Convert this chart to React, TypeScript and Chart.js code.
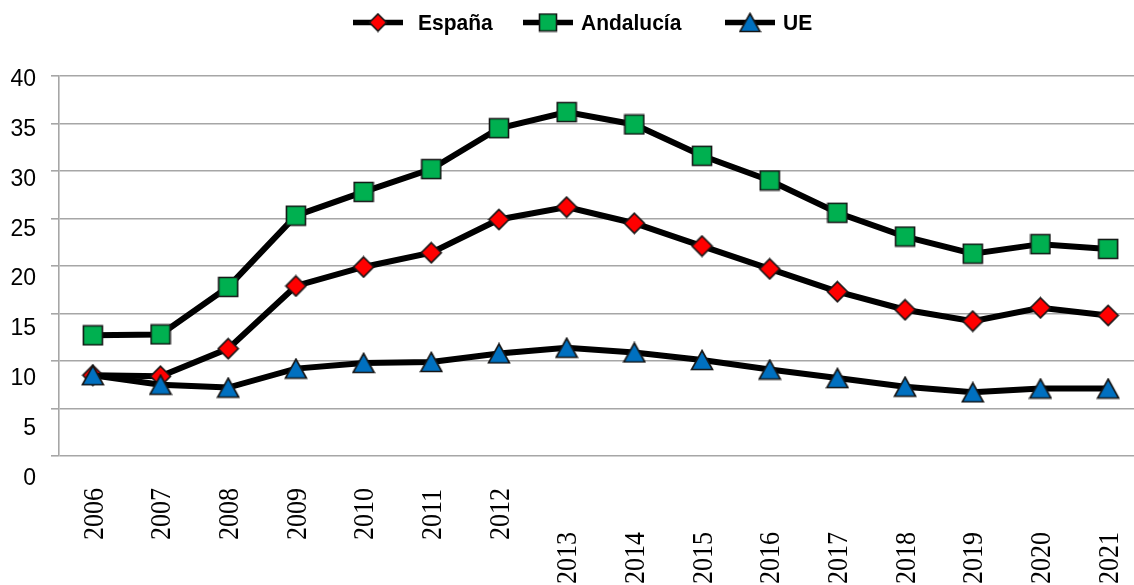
import React, { useEffect, useRef } from 'react';
import { Chart, registerables } from 'chart.js';

Chart.register(...registerables);

const years = ['2006', '2007', '2008', '2009', '2010', '2011', '2012', '2013', '2014', '2015', '2016', '2017', '2018', '2019', '2020', '2021'];
const espana = [8.5, 8.4, 11.3, 17.9, 19.9, 21.4, 24.9, 26.2, 24.5, 22.1, 19.7, 17.3, 15.4, 14.2, 15.6, 14.8];
const andalucia = [12.7, 12.8, 17.8, 25.3, 27.8, 30.2, 34.5, 36.2, 34.9, 31.6, 29.0, 25.6, 23.1, 21.3, 22.3, 21.8];
const ue = [8.5, 7.5, 7.2, 9.2, 9.8, 9.9, 10.8, 11.4, 10.9, 10.1, 9.1, 8.2, 7.3, 6.7, 7.1, 7.1];
const seriesNames = ['España', 'Andalucía', 'UE'];
const seriesColors = ['#ff0000', '#00b050', '#0070c0'];
const yTicks = [0, 5, 10, 15, 20, 25, 30, 35, 40];

type Kind = 'diamond' | 'square' | 'triangle';

function makeMarker(kind: Kind, fill: string, w: number, h: number): HTMLCanvasElement {
  const c = document.createElement('canvas');
  const pad = 1.5;
  c.width = Math.ceil(w + 2 * pad);
  c.height = Math.ceil(h + 2 * pad);
  const ctx = c.getContext('2d')!;
  const cx = c.width / 2;
  const cy = c.height / 2;
  ctx.beginPath();
  if (kind === 'diamond') {
    ctx.moveTo(cx, cy - h / 2);
    ctx.lineTo(cx + w / 2, cy);
    ctx.lineTo(cx, cy + h / 2);
    ctx.lineTo(cx - w / 2, cy);
  } else if (kind === 'square') {
    ctx.rect(cx - w / 2, cy - h / 2, w, h);
  } else {
    ctx.moveTo(cx, cy - h / 2);
    ctx.lineTo(cx + w / 2, cy + h / 2);
    ctx.lineTo(cx - w / 2, cy + h / 2);
  }
  ctx.closePath();
  ctx.fillStyle = fill;
  ctx.fill();
  ctx.lineWidth = 1.6;
  ctx.strokeStyle = '#151515';
  ctx.stroke();
  return c;
}

export default function App() {
  const ref = useRef<HTMLCanvasElement | null>(null);

  useEffect(() => {
    if (!ref.current) return;
    const mEsp = makeMarker('diamond', seriesColors[0], 20, 20);
    const mAnd = makeMarker('square', seriesColors[1], 19, 19);
    const mUe = makeMarker('triangle', seriesColors[2], 21, 19);
    const lEsp = makeMarker('diamond', seriesColors[0], 17, 17);
    const lAnd = makeMarker('square', seriesColors[1], 17, 17);
    const lUe = makeMarker('triangle', seriesColors[2], 20, 18);

    const labelsPlugin = {
      id: 'customLabels',
      afterDraw(chart: any) {
        const ctx = chart.ctx as CanvasRenderingContext2D;
        const ys = chart.scales.y;
        const xs = chart.scales.x;
        ctx.save();
        ctx.fillStyle = '#000';
        ctx.font = '23px "Liberation Sans", Arial, sans-serif';
        ctx.textAlign = 'right';
        ctx.textBaseline = 'alphabetic';
        yTicks.forEach((v) => {
          const p = ys.getPixelForValue(v);
          const cy = ys.top + 1 + (p - ys.top) * 1.05;
          ctx.save();
          ctx.translate(36, cy + 8.9);
          ctx.scale(1, 1.08);
          ctx.fillText(String(v), 0, 0);
          ctx.restore();
        });
        ctx.font = '26px "Liberation Serif", "Times New Roman", serif';
        years.forEach((lab, i) => {
          const x = xs.getPixelForValue(i);
          const bottom = i < 7 ? 540 : 584;
          ctx.save();
          ctx.translate(x, bottom);
          ctx.rotate(-Math.PI / 2);
          ctx.scale(1, 1.1);
          ctx.textAlign = 'left';
          ctx.textBaseline = 'alphabetic';
          ctx.fillText(lab, 0, 26 * 0.338);
          ctx.restore();
        });
        const items = [
          { name: seriesNames[0], lx: 353, tx: 418, m: lEsp },
          { name: seriesNames[1], lx: 523, tx: 581, m: lAnd },
          { name: seriesNames[2], lx: 725, tx: 783, m: lUe },
        ];
        const ly = 22.5;
        ctx.font = 'bold 21px "Liberation Sans", Arial, sans-serif';
        ctx.textAlign = 'left';
        ctx.textBaseline = 'alphabetic';
        items.forEach((it) => {
          ctx.beginPath();
          ctx.moveTo(it.lx, ly);
          ctx.lineTo(it.lx + 50, ly);
          ctx.lineWidth = 5.5;
          ctx.strokeStyle = '#000';
          ctx.stroke();
          ctx.drawImage(it.m, it.lx + 25 - it.m.width / 2, ly - it.m.height / 2);
          ctx.fillStyle = '#000';
          ctx.save();
          ctx.translate(it.tx, 30);
          ctx.scale(1, 1.06);
          ctx.fillText(it.name, 0, 0);
          ctx.restore();
        });
        ctx.restore();
      },
    };

    const chart = new Chart(ref.current, {
      type: 'line',
      data: {
        labels: years,
        datasets: [
          { label: seriesNames[0], data: espana, borderColor: '#000', borderWidth: 6, pointStyle: mEsp as any, pointRadius: 10, order: 3, tension: 0 },
          { label: seriesNames[1], data: andalucia, borderColor: '#000', borderWidth: 6, pointStyle: mAnd as any, pointRadius: 10, order: 2, tension: 0 },
          { label: seriesNames[2], data: ue, borderColor: '#000', borderWidth: 6, pointStyle: mUe as any, pointRadius: 10, order: 1, tension: 0 },
        ],
      },
      options: {
        responsive: false,
        animation: false,
        devicePixelRatio: 1,
        layout: { autoPadding: false, padding: { top: 76, right: 8, left: 0, bottom: 0 } },
        plugins: { legend: { display: false }, tooltip: { enabled: false } },
        scales: {
          x: {
            type: 'category',
            offset: true,
            grid: { display: false },
            border: { display: false },
            ticks: { display: false },
            afterFit: (s: any) => { s.height = 129; },
          },
          y: {
            min: 0,
            max: 40,
            ticks: { stepSize: 5, display: false },
            grid: { color: '#a6a6a6', lineWidth: 1.6, tickLength: 8, drawTicks: true },
            border: { color: '#a6a6a6', width: 1.6 },
            afterFit: (s: any) => { s.width = 59; },
          },
        },
      },
      plugins: [labelsPlugin],
    });
    return () => chart.destroy();
  }, []);

  return (
    <div style={{ position: 'fixed', left: 0, top: 0, width: 1134, height: 585, overflow: 'hidden', background: '#fff' }}>
      <canvas ref={ref} width={1150} height={585} style={{ width: 1150, height: 585, display: 'block' }} />
    </div>
  );
}
